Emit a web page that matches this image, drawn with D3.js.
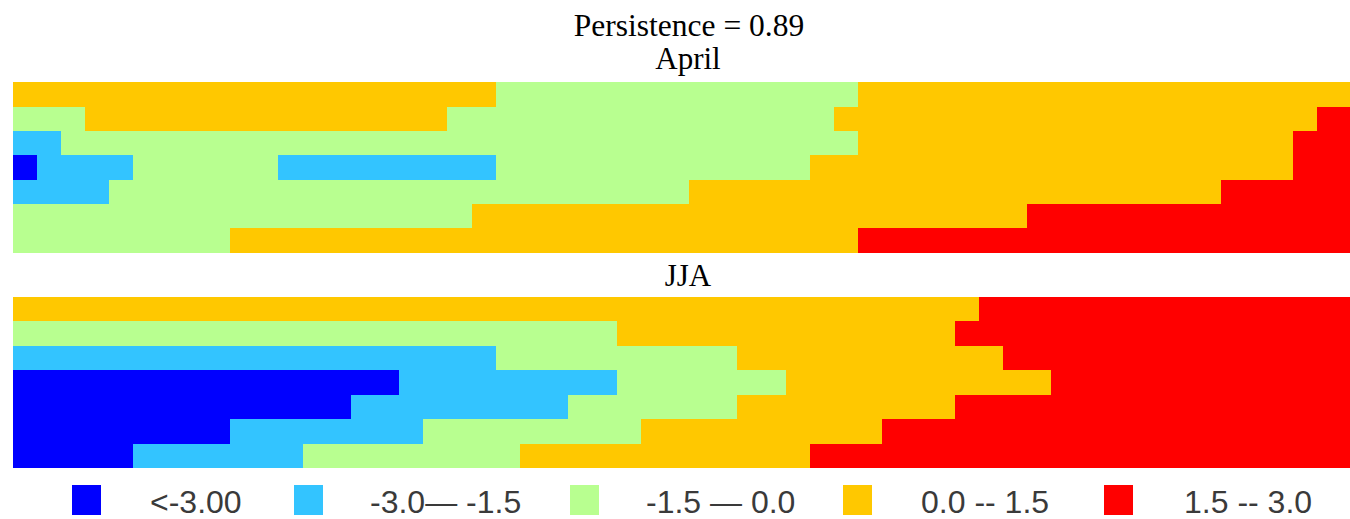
<!DOCTYPE html>
<html>
<head>
<meta charset="utf-8">
<script src="https://cdn.jsdelivr.net/npm/d3@7"></script>
<style>
  body { margin: 0; background: #fff; }
  svg { display: block; }
</style>
</head>
<body>
<svg id="chart" width="1350" height="519"></svg>
<script>
// categories (class index -> label / colour)
const classLabels = ["<-3.00", "-3.0\u2014 -1.5", "-1.5 \u2014 0.0", "0.0 -- 1.5", "1.5 -- 3.0"];
const classColors = ["#0000ff", "#33c4ff", "#b8ff90", "#ffc800", "#ff0000"];

// each row is a list of [class, number of columns] runs, top row first
const aprilRows = [
    [[3, 20], [2, 15], [3, 21]],
    [[2, 3], [3, 15], [2, 16], [3, 20], [4, 2]],
    [[1, 2], [2, 33], [3, 18], [4, 3]],
    [[0, 1], [1, 4], [2, 6], [1, 9], [2, 13], [3, 20], [4, 3]],
    [[1, 4], [2, 24], [3, 22], [4, 6]],
    [[2, 19], [3, 23], [4, 14]],
    [[2, 9], [3, 26], [4, 21]]
];
const jjaRows = [
    [[3, 40], [4, 16]],
    [[2, 25], [3, 14], [4, 17]],
    [[1, 20], [2, 10], [3, 11], [4, 15]],
    [[0, 16], [1, 9], [2, 7], [3, 11], [4, 13]],
    [[0, 14], [1, 9], [2, 7], [3, 9], [4, 17]],
    [[0, 9], [1, 8], [2, 9], [3, 10], [4, 20]],
    [[0, 5], [1, 7], [2, 9], [3, 12], [4, 23]]
];

const mainTitle = "Persistence = 0.89";
const panelTitles = ["April", "JJA"];

// layout
const svg = d3.select("#chart");
const colDomain = [-0.15, 55.36];   // map is cropped at both sides
const x = d3.scaleLinear().domain(colDomain).range([9, 1350]);
const color = d3.scaleOrdinal().domain(d3.range(5)).range(classColors);

function expand(rows) {
    let cells = [];
    rows.forEach(function(runs, r) {
        let c = 0;
        runs.forEach(function(run) {
            for (let k = 0; k < run[1]; k++) {
                cells.push({row: r, col: c, cls: run[0]});
                c++;
            }
        });
    });
    return cells;
}

function drawPanel(rows, top, bottom, rowStart, title, titleY) {
    // top row is cropped a little differently, so start the row scale before 0
    const y = d3.scaleLinear().domain([rowStart, rows.length]).range([top, bottom]);
    const g = svg.append("g");
    g.selectAll("rect")
        .data(expand(rows))
        .enter()
        .append("rect")
        .attr("x", d => x(Math.max(d.col, colDomain[0])))
        .attr("width", d => x(Math.min(d.col + 1, colDomain[1])) - x(Math.max(d.col, colDomain[0])))
        .attr("y", d => y(Math.max(d.row, rowStart)))
        .attr("height", d => y(d.row + 1) - y(Math.max(d.row, rowStart)))
        .attr("fill", d => color(d.cls))
        .attr("shape-rendering", "crispEdges");

    svg.append("text")
        .attr("x", 688)
        .attr("y", titleY)
        .attr("text-anchor", "middle")
        .style("font-family", "'Liberation Serif', 'Times New Roman', serif")
        .style("font-size", "31px")
        .text(title);
}

svg.append("text")
    .attr("x", 689)
    .attr("y", 36)
    .attr("text-anchor", "middle")
    .style("font-family", "'Liberation Serif', 'Times New Roman', serif")
    .style("font-size", "31.5px")
    .text(mainTitle);

drawPanel(aprilRows, 79.3, 252.7, -0.12, panelTitles[0], 69);
drawPanel(jjaRows, 293.3, 468.3, -0.15, panelTitles[1], 286);

// legend
const legendBoxX = [72, 294, 570, 843, 1104];
const legendTextX = [150, 370, 646, 921, 1184];
const lg = svg.append("g");
classLabels.forEach(function(lab, i) {
    lg.append("rect")
        .attr("x", legendBoxX[i])
        .attr("y", 485)
        .attr("width", 29)
        .attr("height", 30)
        .attr("fill", color(i));
    lg.append("text")
        .attr("x", legendTextX[i])
        .attr("y", 513)
        .style("font-family", "'Liberation Sans', Arial, sans-serif")
        .style("font-size", "32px")
        .style("fill", "#3a3a3a")
        .text(lab);
});
</script>
</body>
</html>
